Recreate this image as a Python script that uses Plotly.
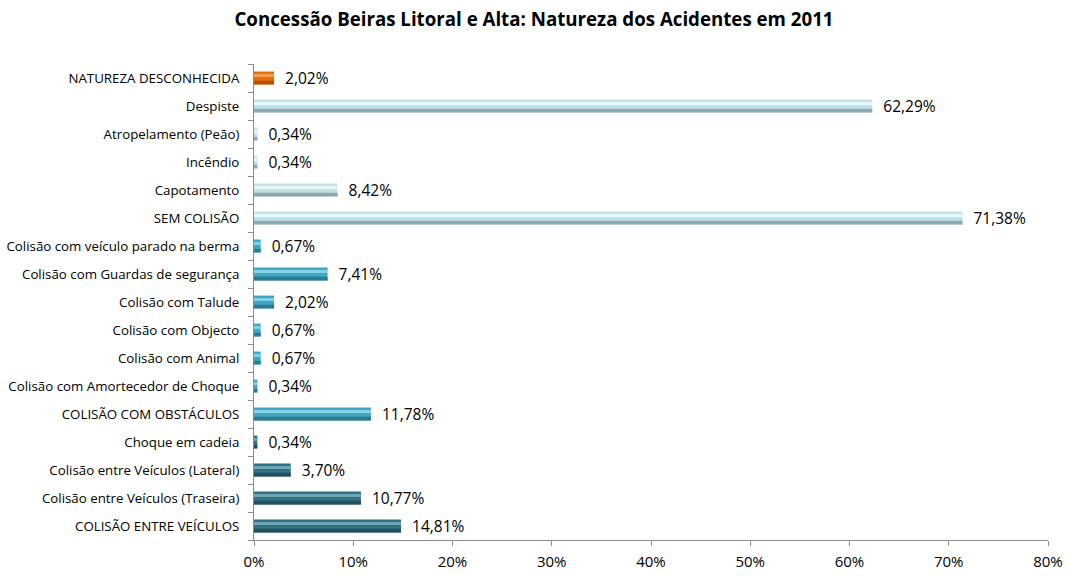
import plotly.graph_objects as go

# Accident types, listed bottom to top as they appear on the axis
categories = [
    "COLISÃO ENTRE VEÍCULOS",
    "Colisão entre Veículos (Traseira)",
    "Colisão entre Veículos (Lateral)",
    "Choque em cadeia",
    "COLISÃO COM OBSTÁCULOS",
    "Colisão com Amortecedor de Choque",
    "Colisão com Animal",
    "Colisão com Objecto",
    "Colisão com Talude",
    "Colisão com Guardas de segurança",
    "Colisão com veículo parado na berma",
    "SEM COLISÃO",
    "Capotamento",
    "Incêndio",
    "Atropelamento (Peão)",
    "Despiste",
    "NATUREZA DESCONHECIDA",
]
percentages = [14.81, 10.77, 3.70, 0.34, 11.78, 0.34, 0.67, 0.67, 2.02, 7.41, 0.67,
               71.38, 8.42, 0.34, 0.34, 62.29, 2.02]
groups = ["veic"] * 4 + ["obst"] * 7 + ["sem"] * 5 + ["desc"]
x_ticks = [0, 10, 20, 30, 40, 50, 60, 70, 80]
x_tick_labels = [f"{t}%" for t in x_ticks]

FONT = "'Open Sans', sans-serif"

# (body, top highlight, bottom shade) for each group
palette = {
    "veic": ("#326F80", "#6FA6B5", "#23505C"),
    "obst": ("#42A6C2", "#86D3E8", "#2C7A90"),
    "sem": ("#C2E1E8", "#E9F6F8", "#8FA7AE"),
    "desc": ("#E46C0A", "#F8A35A", "#B0530A"),
}

body = [palette[g][0] for g in groups]
light = [palette[g][1] for g in groups]
shade = [palette[g][2] for g in groups]

fig = go.Figure()
# main bar body with value label
fig.add_trace(go.Bar(
    y=categories, x=percentages, orientation="h",
    width=0.46, offset=-0.23,
    marker=dict(color=body, line=dict(width=0)),
    text=[f"{v:.2f}".replace(".", ",") + "%" for v in percentages],
    texttemplate="  %{text}",
    textposition="outside", cliponaxis=False, constraintext="none",
    textfont=dict(family=FONT, size=15.5, color="#000000"),
    hoverinfo="skip", showlegend=False,
))
# lower shaded band
fig.add_trace(go.Bar(
    y=categories, x=percentages, orientation="h",
    width=0.13, offset=-0.23,
    marker=dict(color=shade, line=dict(width=0)),
    hoverinfo="skip", showlegend=False,
))
# upper highlight band
fig.add_trace(go.Bar(
    y=categories, x=percentages, orientation="h",
    width=0.1, offset=0.04,
    marker=dict(color=light, line=dict(width=0)),
    hoverinfo="skip", showlegend=False,
))

fig.update_layout(
    width=1068, height=580,
    barmode="overlay",
    separators=",.",
    paper_bgcolor="white", plot_bgcolor="white",
    margin=dict(l=254, r=20, t=64, b=40, autoexpand=False),
    font=dict(family=FONT, color="#000000"),
    title=dict(
        text="<b>Concessão Beiras Litoral e Alta: Natureza dos Acidentes em 2011</b>",
        x=0.5, xref="container", xanchor="center",
        y=0.966, yref="container", yanchor="middle",
        font=dict(family=FONT, size=18.7, color="#000000"),
    ),
    xaxis=dict(
        range=[0, 80], tickmode="array", tickvals=x_ticks, ticktext=x_tick_labels,
        showgrid=False, zeroline=False, automargin=False,
        showline=True, linecolor="#8C8C8C", linewidth=1,
        ticks="outside", ticklen=5, tickcolor="#8C8C8C",
        ticklabelstandoff=3,
        tickfont=dict(family=FONT, size=15),
    ),
    yaxis=dict(
        type="category", categoryorder="array", categoryarray=categories,
        showgrid=False, zeroline=False, automargin=False,
        showline=True, linecolor="#8C8C8C", linewidth=1,
        ticks="outside", ticklen=5, tickcolor="#8C8C8C", tickson="boundaries",
        ticklabelstandoff=11,
        tickfont=dict(family=FONT, size=13.3),
    ),
)

fig.write_html("out.html")
